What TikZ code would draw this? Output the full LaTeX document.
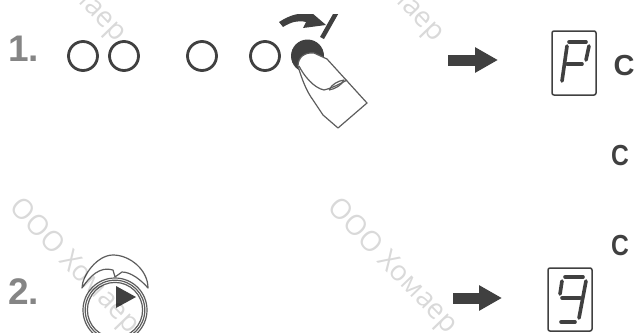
\documentclass[tikz,border=0pt]{standalone}
\usepackage{fontspec}
\setmainfont{Liberation Sans}
\newfontfamily\wmfont{Open Sans}
\usepackage{xcolor}
\usepackage{graphicx}
\usetikzlibrary{arrows.meta, positioning}
\definecolor{inkdark}{HTML}{404040}
\definecolor{stepgray}{HTML}{858585}

\begin{document}
\begin{tikzpicture}[
      x=1pt, y=-1pt,
      wmark/.style={anchor=west, inner sep=0pt, rotate=-46, text=black, text opacity=0.15,
                    font=\wmfont\fontsize{28}{28}\selectfont},
      stepnum/.style={anchor=west, inner sep=0pt, text=stepgray,
                      font=\bfseries\fontsize{37}{37}\selectfont},
      ledring/.style={draw=inkdark, line width=2.8pt, circle, fill=white,
                      minimum size=29pt, inner sep=0pt},
      display/.style={draw=inkdark, line width=1.5pt, rounded corners=2pt,
                      inner sep=0pt},
      seg/.style={inkdark, line width=3.6pt, line cap=round},
      sideletter/.style={inner sep=0pt, text=inkdark,
                         font=\bfseries\fontsize{29}{29}\selectfont},
      fatarrow/.style={inkdark, line width=11pt,
                       -{Triangle[length=23pt, width=24pt]}},
      outline/.style={inkdark!85, line width=1.2pt, line join=round},
    ]
    \useasboundingbox (0,0) rectangle (636,332);
    \clip (0,0) rectangle (636,332);

    % --- step numbers ---
    \node[stepnum] (numone) at (8,49)  {1.};
    \node[stepnum] (numtwo) at (8,292) {2.};

    % --- row of buttons ---
    \foreach \x/\name in {83/a, 124/b, 202/c, 265/d} {
      \node[ledring] (led\name) at (\x,56) {};
    }
    \node[circle, fill=inkdark, minimum size=33pt, inner sep=0pt] (ledpress) at (307.5,56) {};

    % --- finger on the pressed button ---
    \draw[outline, fill=white] (298,66) .. controls (298,57) and (305,52) .. (314,53)
      -- (327,59) -- (367,103) -- (338,128) -- (323,115) -- (313,100)
      .. controls (307,92) and (302,80) .. (298,66);
    \draw[outline] (299,66) .. controls (304,76) and (314,88) .. (324,90)
      .. controls (332,88) and (340,84) .. (347,80);
    \draw[outline] (329,90) .. controls (332,84) and (338,81) .. (344,80)
      .. controls (342,85) and (335,89) .. (329,90);

    % --- press mark above the button ---
    \begin{scope}
      \clip (270,14) rectangle (345,50);
      \fill[inkdark] (279,22) .. controls (290,15) and (298,13) .. (310,13)
        -- (312,13) -- (326,25) -- (303,28) -- (306,22)
        .. controls (298,20) and (291,22) .. (283,27) -- cycle;
      \draw[inkdark, line width=4.5pt] (339,8) -- (322,38);
    \end{scope}

    % --- arrows ---
    \coordinate (arrowonea) at (448,60);
    \coordinate (arrowoneb) at (498,60);
    \coordinate (arrowtwoa) at (453,298);
    \coordinate (arrowtwob) at (502,298);
    \draw[fatarrow] (arrowonea) -- (arrowoneb);
    \draw[fatarrow] (arrowtwoa) -- (arrowtwob);

    % --- display with P ---
    \node[display, minimum width=44pt, minimum height=64pt] (dispp) at (574,63) {};
    \draw[seg] (569,42) -- (586,42);
    \draw[seg] (567,46) -- (562,81);
    \draw[seg] (589,46) -- (586,60);
    \draw[seg] (567,64) -- (582,64);

    % --- display with 9 ---
    \node[display, minimum width=44pt, minimum height=63pt] (dispnine) at (570,299.5) {};
    \draw[seg] (565,277) -- (583,277);
    \draw[seg] (562,281) -- (560,294);
    \draw[seg] (586,281) -- (579,318);
    \draw[seg] (562,298) -- (580,298);
    \draw[seg] (561,322) -- (575,322);

    % --- letters at the right edge ---
    \node[sideletter] (letone)   at (624,66)  {C};
    \node[sideletter] (lettwo)   at (620,156) {\scalebox{0.85}[1]{C}};
    \node[sideletter] (letthree) at (620,246) {\scalebox{0.85}[1]{C}};

    % --- clock ---
    \draw[outline, fill=white] (82,288) .. controls (82,276) and (97,255) .. (113,255)
      .. controls (130,255) and (148,270) .. (148,288)
      .. controls (141,280) and (131,272) .. (122,272)
      -- (115,277) -- (113,270)
      .. controls (100,266) and (90,276) .. (82,288) -- cycle;
    \foreach \r in {32,29.8,27.6} {
      \draw[outline, fill=white] (115,310) circle[radius=\r];
    }
    \fill[inkdark] (116,286) -- (136,297) -- (116,308) -- cycle;

    % --- watermarks, on top of everything ---
    \node[wmark] (wmone)   at (0,-88)  {ООО Хомаер};
    \node[wmark] (wmtwo)   at (318,-88) {ООО Хомаер};
    \node[wmark] (wmthree) at (13,204) {ООО Хомаер};
    \node[wmark] (wmfour)  at (331,204) {ООО Хомаер};
\end{tikzpicture}
\end{document}
